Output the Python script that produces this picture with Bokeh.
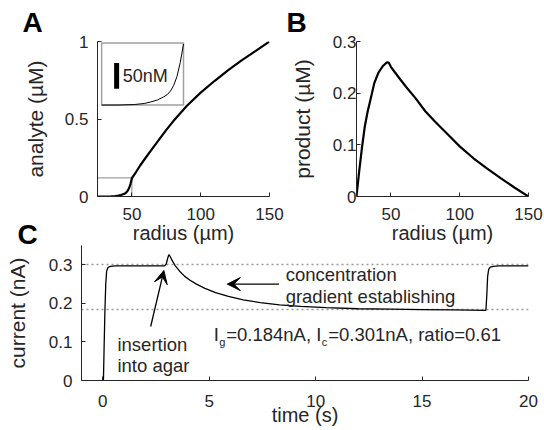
import numpy as np
from bokeh.plotting import figure
from bokeh.layouts import column, row
from bokeh.models import Label, Arrow, VeeHead, FixedTicker, Title
from bokeh.embed import file_html
from bokeh.resources import INLINE

FONT = "Liberation Sans"
AX = "#262626"

# ---------------- data ----------------
# Panel A: analyte vs radius
radius_a = [25, 30, 35, 38, 40, 42, 44, 45, 46, 47, 48, 49, 50, 51, 53, 56, 60, 65, 70,
            75, 80, 90, 100, 110, 120, 130, 140, 150]
analyte_uM = [0, 0, 0.001, 0.003, 0.006, 0.0097, 0.016, 0.02, 0.027, 0.038, 0.055, 0.082,
              0.118, 0.132, 0.158, 0.2, 0.25, 0.31, 0.37, 0.43, 0.485, 0.585, 0.67, 0.745,
              0.815, 0.88, 0.94, 1.0]
# Panel B: product vs radius
radius_b = [25, 27, 29, 31, 33, 35, 38, 41, 44, 46, 47.5, 48.5, 50, 53, 57, 62, 68, 75, 82,
            90, 100, 110, 120, 130, 140, 150]
product_uM = [0, 0.05, 0.095, 0.135, 0.163, 0.186, 0.22, 0.24, 0.252, 0.257, 0.26, 0.259,
              0.251, 0.24, 0.226, 0.209, 0.19, 0.165, 0.145, 0.124, 0.097, 0.074, 0.054,
              0.035, 0.017, 0.0]
# Panel C: current vs time
time_s = [0.03, 0.06, 0.1, 0.14, 0.18, 0.24, 0.35, 0.6, 1.0, 2.0, 2.9, 2.98, 3.04, 3.09,
          3.12, 3.16, 3.25, 3.4, 3.6, 3.85, 4.1, 4.4, 4.8, 5.3, 5.9, 6.6, 7.4, 8.3, 9.3,
          10.5, 12.0, 13.5, 15.0, 16.5, 18.0, 18.04, 18.08, 18.13, 18.2, 18.35, 18.6, 19.0, 20.0]
current_nA = [0.0, 0.08, 0.18, 0.25, 0.283, 0.293, 0.296, 0.297, 0.297, 0.297, 0.297, 0.302,
              0.315, 0.324, 0.326, 0.322, 0.312, 0.298, 0.284, 0.27, 0.26, 0.25, 0.239, 0.228,
              0.218, 0.209, 0.202, 0.196, 0.192, 0.189, 0.186, 0.185, 0.184, 0.183, 0.182,
              0.22, 0.27, 0.288, 0.294, 0.296, 0.297, 0.297, 0.297]
I_g = 0.184
I_c = 0.301

a_xticks = [50, 100, 150]
a_yticks = [0, 0.5, 1]
a_ylabels = ["0", "0.5", "1"]
b_xticks = [50, 100, 150]
b_yticks = [0, 0.1, 0.2, 0.3]
b_ylabels = ["0", "0.1", "0.2", "0.3"]
c_xticks = [0, 5, 10, 15, 20]
c_yticks = [0, 0.1, 0.2, 0.3]
c_ylabels = ["0", "0.1", "0.2", "0.3"]

# zoom region shown in inset (data) and inset placement in panel A (data coords)
zoom_r = (25, 50)
zoom_v = (0, 0.12)
inset_x = (28, 87.5)
inset_y = (0.59, 0.99)
scalebar_nM = 50


def style(p, xt, yt, xlab, ylab, tick_size="17px", xt_std=11, yt_std=9,
          xtitle_size="20px", ytitle_size="21px", xtitle_std=-1, ytitle_std=15):
    p.outline_line_color = None
    p.xgrid.visible = False
    p.ygrid.visible = False
    p.background_fill_color = None
    p.border_fill_color = None
    for ax in (p.xaxis[0], p.yaxis[0]):
        ax.axis_line_color = AX
        ax.axis_line_width = 1
        ax.major_tick_in = 4
        ax.major_tick_out = 0
        ax.major_tick_line_color = AX
        ax.minor_tick_line_color = None
        ax.major_label_text_font = FONT
        ax.major_label_text_font_size = tick_size
        ax.major_label_text_color = AX
        ax.axis_label_text_font = FONT
        ax.axis_label_text_font_style = "normal"
        ax.axis_label_text_color = AX
    p.xaxis[0].ticker = FixedTicker(ticks=xt)
    p.yaxis[0].ticker = FixedTicker(ticks=yt)
    p.xaxis[0].major_label_overrides = {t: l for t, l in zip(xt, xlab)}
    p.yaxis[0].major_label_overrides = {t: l for t, l in zip(yt, ylab)}
    p.xaxis[0].major_label_standoff = xt_std
    p.yaxis[0].major_label_standoff = yt_std
    p.xaxis[0].axis_label_text_font_size = xtitle_size
    p.yaxis[0].axis_label_text_font_size = ytitle_size
    p.xaxis[0].axis_label_standoff = xtitle_std
    p.yaxis[0].axis_label_standoff = ytitle_std


def letter(p, txt, offset, standoff):
    p.add_layout(Title(text=txt, align="left", offset=offset, standoff=standoff,
                       vertical_align="bottom", text_font=FONT, text_font_size="28px",
                       text_font_style="bold", text_color="black"), "above")


# ---------------- Panel A ----------------
pa = figure(frame_width=172, frame_height=155, x_range=(25, 150), y_range=(0, 1),
            output_backend="svg", toolbar_location=None, title=None,
            min_border_left=97, min_border_right=17, min_border_top=41, min_border_bottom=51,
            x_axis_label="radius (µm)", y_axis_label="analyte (µM)")
style(pa, a_xticks, a_yticks, [str(t) for t in a_xticks], a_ylabels)

ra = np.array(radius_a, dtype=float)
va = np.array(analyte_uM, dtype=float)
# zoom rectangle in main axes
pa.quad(left=[zoom_r[0]], right=[zoom_r[1]], bottom=[zoom_v[0]], top=[zoom_v[1]],
        fill_color=None, line_color="#a0a0a0", line_width=1.2)
pa.line(ra, va, line_color="black", line_width=2.2)
# inset
pa.quad(left=[inset_x[0]], right=[inset_x[1]], bottom=[inset_y[0]], top=[inset_y[1]],
        fill_color="white", line_color="#a0a0a0", line_width=1.5)
m = ra <= zoom_r[1]
ix = inset_x[0] + (ra[m] - zoom_r[0]) / (zoom_r[1] - zoom_r[0]) * (inset_x[1] - inset_x[0])
iy = inset_y[0] + (va[m] - zoom_v[0]) / (zoom_v[1] - zoom_v[0]) * (inset_y[1] - inset_y[0])
pa.line(ix, iy, line_color="black", line_width=1)
bar_len = scalebar_nM / 1000 / (zoom_v[1] - zoom_v[0]) * (inset_y[1] - inset_y[0])
bar_x = 38.9
bar_y0 = 0.695
pa.segment(x0=[bar_x], x1=[bar_x], y0=[bar_y0], y1=[bar_y0 + bar_len],
           line_color="black", line_width=5)
pa.add_layout(Label(x=43.3, y=bar_y0 + bar_len / 2, text=f"{scalebar_nM}nM", text_font=FONT,
                    text_font_size="18px", text_color=AX, text_baseline="middle",
                    text_align="left"))
letter(pa, "A", -75, 7)

# ---------------- Panel B ----------------
pb = figure(frame_width=172, frame_height=155, x_range=(25, 150), y_range=(0, 0.3),
            output_backend="svg", toolbar_location=None, title=None,
            min_border_left=70, min_border_right=16, min_border_top=41, min_border_bottom=51,
            x_axis_label="radius (µm)", y_axis_label="product (µM)")
style(pb, b_xticks, b_yticks, [str(t) for t in b_xticks], b_ylabels, yt_std=0,
      ytitle_std=16)
pb.line(radius_b, product_uM, line_color="black", line_width=2.2)
letter(pb, "B", -70, 7)

# ---------------- Panel C ----------------
pc = figure(frame_width=447, frame_height=135, x_range=(-1, 20), y_range=(0, 0.35),
            output_backend="svg", toolbar_location=None, title=None,
            min_border_left=81, min_border_right=16, min_border_top=40, min_border_bottom=48,
            x_axis_label="time (s)", y_axis_label="current (nA)")
style(pc, c_xticks, c_yticks, [str(t) for t in c_xticks], c_ylabels, xt_std=14,
      xtitle_std=-6, ytitle_std=17)
pc.margin = (-42, 0, 0, 0)
pc.line([-1, 20], [I_c, I_c], line_color="#9a9a9a", line_width=1.5, line_dash="2 3")
pc.line([-1, 20], [I_g, I_g], line_color="#9a9a9a", line_width=1.5, line_dash="2 3")
pc.line(time_s, current_nA, line_color="black", line_width=1.3)
letter(pc, "C", -64, -8)

# arrows
arrow_ins = (2.25, 0.14, 2.87, 0.285)
arrow_grad = (8.28, 0.25, 5.85, 0.25)
for (xs, ys, xe, ye) in (arrow_ins, arrow_grad):
    pc.add_layout(Arrow(x_start=xs, y_start=ys, x_end=xe, y_end=ye, line_width=1.3,
                        line_color="black",
                        end=VeeHead(size=13, fill_color="black", line_color="black")))


def ctext(x, y, txt, size="18.5px", xo=0):
    pc.add_layout(Label(x=x, y=y, text=txt, text_font=FONT, text_font_size=size,
                        text_color=AX, text_baseline="alphabetic", text_align="left",
                        x_offset=xo))


ctext(0.69, 0.093, "insertion")
ctext(0.69, 0.039, "into agar")
ctext(8.59, 0.274, "concentration")
ctext(8.59, 0.217, "gradient establishing")
tx, ty, ty_sub = 5.21, 0.119, 0.099
ctext(tx, ty, "I")
ctext(tx, ty_sub, "g", size="11px", xo=5.5)
ctext(tx, ty, f"={I_g:.3f}nA, I", xo=12.5)
ctext(tx, ty_sub, "c", size="11px", xo=108)
ctext(tx, ty, f"={I_c:.3f}nA, ratio={I_g / I_c:.2f}", xo=114.5)

layout = column(row(pa, pb), pc)
open("out.html", "w").write(file_html(layout, INLINE))
